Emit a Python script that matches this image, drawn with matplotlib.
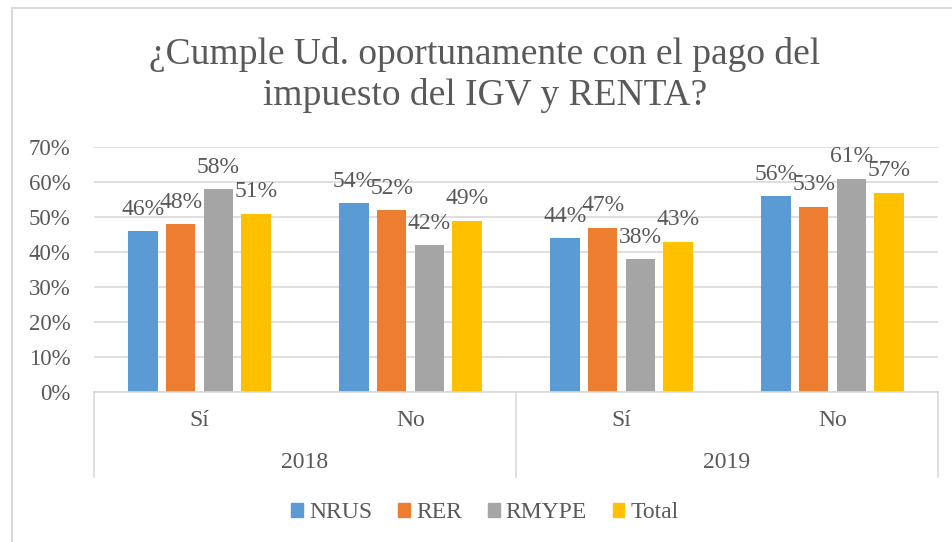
import numpy as np
import matplotlib
matplotlib.use("Agg")
import matplotlib.pyplot as plt
from matplotlib.patches import Rectangle, Patch
from matplotlib.ticker import PercentFormatter

plt.rcParams['font.family'] = ['Liberation Serif', 'DejaVu Serif']

title = "¿Cumple Ud. oportunamente con el pago del\nimpuesto del IGV y RENTA?"
answers = ["Sí", "No", "Sí", "No"]
years = ["2018", "2019"]
series = ["NRUS", "RER", "RMYPE", "Total"]
nrus = [46, 54, 44, 56]
rer = [48, 52, 47, 53]
rmype = [58, 42, 38, 61]
total = [51, 49, 43, 57]
colors = ["#5B9BD5", "#ED7D31", "#A5A5A5", "#FFC000"]

TXT = "#595959"
GRID = "#D9D9D9"
FS = 17

fig = plt.figure(figsize=(9.52, 5.42), dpi=100)
ax = fig.add_axes([94 / 952, 1 - 392 / 542, 844 / 952, 245 / 542])

x = np.arange(len(answers))
w = 0.14
step = 0.178
for i, (name, vals) in enumerate(zip(series, [nrus, rer, rmype, total])):
    pos = x + (i - 1.5) * step
    bars = ax.bar(pos, vals, width=w, color=colors[i], label=name, zorder=2)
    for b, v in zip(bars, vals):
        ax.annotate(f"{v}%", (b.get_x() + b.get_width() / 2, v),
                    xytext=(0, 8), textcoords="offset points",
                    ha="center", va="bottom", fontsize=FS, color=TXT)

ax.set_xlim(-0.5, len(answers) - 0.5)
ax.set_ylim(0, 70)
ax.set_yticks(range(0, 71, 10))
ax.yaxis.set_major_formatter(PercentFormatter(decimals=0))
ax.tick_params(axis="y", length=0, labelsize=16.5, labelcolor=TXT, pad=17)
ax.set_xticks([])
ax.grid(axis="y", color=GRID, linewidth=1.2, zorder=0)
for s in ["top", "right", "left"]:
    ax.spines[s].set_visible(False)
ax.spines["bottom"].set_color(GRID)
ax.spines["bottom"].set_linewidth(1.2)

# multi-level category axis
tr = ax.get_xaxis_transform()
depth = -(477 - 392) / 245
for xv in [-0.5, 1.5, 3.5]:
    ax.plot([xv, xv], [0, depth], transform=tr, color=GRID, lw=1.2, clip_on=False)
for xv, lab in zip(x, answers):
    ax.text(xv, -(420 - 392) / 245, lab, transform=tr, ha="center", va="center",
            fontsize=FS, color=TXT)
for j, yr in enumerate(years):
    ax.text(0.5 + 2 * j, -(463 - 392) / 245, yr, transform=tr, ha="center",
            va="center", fontsize=FS, color=TXT)

fig.text(485 / 952, 1 - 75 / 542, title, ha="center", va="center",
         fontsize=27, color=TXT, linespacing=1.22)

handles = [Patch(color=c, label=s) for c, s in zip(colors, series)]
fig.legend(handles=handles, loc="center", bbox_to_anchor=(485 / 952, 1 - 513 / 542),
           ncol=4, frameon=False, fontsize=FS, handlelength=0.5, handleheight=0.55,
           handletextpad=0.25, columnspacing=1.1, labelcolor=TXT)

fig.patches.append(Rectangle((12 / 952, -0.1), 1.2, 1.1 - 8 / 542, transform=fig.transFigure,
                             fill=False, edgecolor=GRID, linewidth=1.5))

fig.savefig("out.png", dpi=100)
